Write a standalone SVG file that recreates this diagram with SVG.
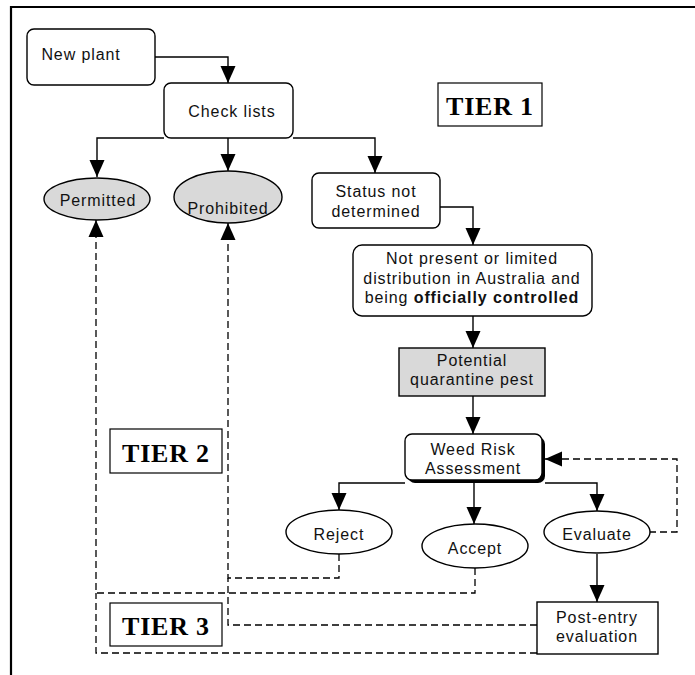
<svg xmlns="http://www.w3.org/2000/svg" width="695" height="675" viewBox="0 0 695 675">
  <defs>
    <marker id="arrow" markerUnits="userSpaceOnUse" markerWidth="18" markerHeight="16" viewBox="0 0 18 16" refX="17" refY="8" orient="auto">
      <path d="M0,0.5 L17,8 L0,15.5 Z" fill="#000"/>
    </marker>
    <style>
      .box { fill: #fff; stroke: #000; stroke-width: 1.4; }
      .grey { fill: #d9d9d9; stroke: #000; stroke-width: 1.4; }
      .tier { fill: #fff; stroke: #000; stroke-width: 1.2; }
      .lbl { font-family: "Liberation Sans", Arial, sans-serif; font-size: 16px; letter-spacing: 0.9px; fill: #111; text-anchor: middle; }
      .tiertxt { font-family: "Liberation Serif", "Times New Roman", serif; font-weight: bold; font-size: 26px; letter-spacing: 0.8px; fill: #000; text-anchor: middle; }
      .solid { fill: none; stroke: #000; stroke-width: 1.4; }
      .dash { fill: none; stroke: #000; stroke-width: 1.3; stroke-dasharray: 7 4; }
    </style>
  </defs>

  <rect width="695" height="675" fill="#fff"/>

  <!-- page frame (top and left rules) -->
  <path d="M11,675 V7 H695" fill="none" stroke="#000" stroke-width="2.2"/>

  <!-- connectors -->
  <g id="connectors">
    <path class="solid" d="M155,57 H228 V83" marker-end="url(#arrow)"/>
    <path class="solid" d="M164,138 H97 V177" marker-end="url(#arrow)"/>
    <path class="solid" d="M228,138 V171" marker-end="url(#arrow)"/>
    <path class="solid" d="M293,138 H375 V173" marker-end="url(#arrow)"/>
    <path class="solid" d="M440,207 H473 V245" marker-end="url(#arrow)"/>
    <path class="solid" d="M473,316 V348" marker-end="url(#arrow)"/>
    <path class="solid" d="M473,396 V434" marker-end="url(#arrow)"/>
    <path class="solid" d="M405,483 H339 V510" marker-end="url(#arrow)"/>
    <path class="solid" d="M474,483 V524" marker-end="url(#arrow)"/>
    <path class="solid" d="M545,483 H597 V511" marker-end="url(#arrow)"/>
    <path class="solid" d="M597,554 V602" marker-end="url(#arrow)"/>
    <!-- feedback loops -->
    <path class="dash" d="M649,532 H677 V459 H545" marker-end="url(#arrow)"/>
    <path class="dash" d="M339,554 V578 H228 V223" marker-end="url(#arrow)"/>
    <path class="dash" d="M537,625 H228 V578"/>
    <path class="dash" d="M475,568 V593 H96 V220" marker-end="url(#arrow)"/>
    <path class="dash" d="M537,653 H96 V593"/>
  </g>

  <g id="new-plant">
    <rect class="box" x="27" y="29" width="128" height="56" rx="7"/>
    <text class="lbl" x="81" y="60">New plant</text>
  </g>

  <g id="check-lists">
    <rect class="box" x="164" y="83" width="129" height="55" rx="7"/>
    <text class="lbl" x="232" y="117">Check lists</text>
  </g>

  <g id="tier-1">
    <rect class="tier" x="438" y="83" width="104" height="43"/>
    <text class="tiertxt" x="490" y="115">TIER 1</text>
  </g>

  <g id="permitted">
    <ellipse class="grey" cx="97" cy="199" rx="53" ry="21"/>
    <text class="lbl" x="98" y="206">Permitted</text>
  </g>

  <g id="prohibited">
    <ellipse class="grey" cx="228" cy="197" rx="54" ry="26"/>
    <text class="lbl" x="228" y="214">Prohibited</text>
  </g>

  <g id="status-not-determined">
    <rect class="box" x="312" y="173" width="128" height="55" rx="7"/>
    <text class="lbl" x="376" y="197">Status not</text>
    <text class="lbl" x="376" y="217">determined</text>
  </g>

  <g id="not-present">
    <rect class="box" x="353" y="245" width="239" height="71" rx="9"/>
    <text class="lbl" x="472" y="264">Not present or limited</text>
    <text class="lbl" x="472" y="284">distribution in Australia and</text>
    <text class="lbl" x="472" y="303">being  <tspan font-weight="bold">officially controlled</tspan></text>
  </g>

  <g id="potential-quarantine-pest">
    <rect class="grey" x="399" y="348" width="146" height="48"/>
    <text class="lbl" x="472" y="366">Potential</text>
    <text class="lbl" x="472" y="385">quarantine pest</text>
  </g>

  <g id="weed-risk-assessment">
    <rect x="408" y="437" width="137" height="46" rx="7" fill="#000"/>
    <rect class="box" x="405" y="434" width="137" height="46" rx="7"/>
    <text class="lbl" x="473" y="455">Weed Risk</text>
    <text class="lbl" x="473" y="474">Assessment</text>
  </g>

  <g id="tier-2">
    <rect class="tier" x="110" y="429" width="112" height="44"/>
    <text class="tiertxt" x="166" y="462">TIER 2</text>
  </g>

  <g id="reject">
    <ellipse class="box" cx="339" cy="532" rx="53" ry="22"/>
    <text class="lbl" x="339" y="540">Reject</text>
  </g>

  <g id="accept">
    <ellipse class="box" cx="475" cy="546" rx="53" ry="22"/>
    <text class="lbl" x="475" y="554">Accept</text>
  </g>

  <g id="evaluate">
    <ellipse class="box" cx="597" cy="532" rx="53" ry="21"/>
    <text class="lbl" x="597" y="540">Evaluate</text>
  </g>

  <g id="post-entry-evaluation">
    <rect class="box" x="537" y="602" width="121" height="52"/>
    <text class="lbl" x="597" y="623">Post-entry</text>
    <text class="lbl" x="597" y="642">evaluation</text>
  </g>

  <g id="tier-3">
    <rect class="tier" x="110" y="603" width="112" height="43"/>
    <text class="tiertxt" x="166" y="635">TIER 3</text>
  </g>
</svg>
